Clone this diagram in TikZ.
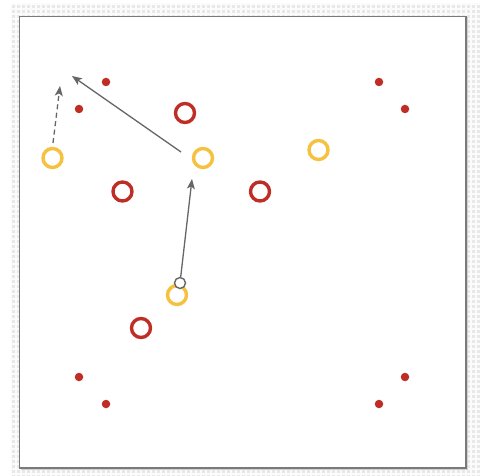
\documentclass[tikz,border=0pt]{standalone}
\usetikzlibrary{arrows.meta}
\definecolor{ringred}{HTML}{BF2E26}
\definecolor{ringyellow}{HTML}{F5C13F}
\definecolor{linegray}{HTML}{666666}
\definecolor{framegray}{HTML}{7A7A7A}
\definecolor{gridbg}{HTML}{E8E8E8}
\tikzset{
  dot/.style={circle,fill=ringred,inner sep=0pt,minimum size=8.5pt},
  redring/.style={circle,draw=ringred,line width=3.4pt,inner sep=0pt,minimum size=19pt},
  yellowring/.style={circle,draw=ringyellow,line width=3.4pt,inner sep=0pt,minimum size=19pt},
  handle/.style={circle,draw=linegray,fill=white,line width=1.4pt,inner sep=0pt,minimum size=11pt},
  move/.style={draw=linegray,line width=1.3pt,-{Stealth[length=10pt,width=8pt,inset=2.5pt]}},
}
\begin{document}
\begin{tikzpicture}[x=1pt,y=-1pt]
\useasboundingbox (0,0) rectangle (480,476);
% grid backdrop
\fill[gridbg] (11,4) rectangle (480,476);
\begin{scope}
\clip (11,4) rectangle (480,476);
\foreach \i in {0,...,95} {
  \draw[white!85!gridbg,line width=1.4pt] ({11+5*\i},4) -- ({11+5*\i},476);
  \draw[white!85!gridbg,line width=1.4pt] (11,{4+5*\i}) -- (480,{4+5*\i});
}
\end{scope}
% canvas with shadow
\fill[black!18] (20.5,17.5) rectangle (468,470);
\fill[white] (19.5,16.5) rectangle (466,468);
\draw[framegray,line width=1.6pt] (19.5,16.5) rectangle (466,468);

% corner dots
\node[dot] (d1) at (106,82) {};
\node[dot] (d2) at (79,109) {};
\node[dot] (d3) at (379,82) {};
\node[dot] (d4) at (405,109) {};
\node[dot] (d5) at (79,377) {};
\node[dot] (d6) at (106,404) {};
\node[dot] (d7) at (405,377) {};
\node[dot] (d8) at (379,404) {};

% red rings
\node[redring] (r1) at (185,113) {};
\node[redring] (r2) at (122.5,191.5) {};
\node[redring] (r3) at (260,191.5) {};
\node[redring] (r4) at (141,328) {};

% yellow rings
\node[yellowring] (y1) at (52.5,158) {};
\node[yellowring] (y2) at (203,158) {};
\node[yellowring] (y3) at (318.5,150) {};
\node[yellowring] (y4) at (177,295) {};

% drag handle
\node[handle] (h) at (180,283) {};

% arrow end points
\coordinate (t1) at (192,179);
\coordinate (s2) at (181,152);
\coordinate (t2) at (72,76);
\coordinate (s3) at (53,143);
\coordinate (t3) at (60,86);

\draw[move] (h) -- (t1);
\draw[move] (s2) -- (t2);
\draw[move,dash pattern=on 5pt off 3.5pt] (s3) -- (t3);
\end{tikzpicture}
\end{document}
